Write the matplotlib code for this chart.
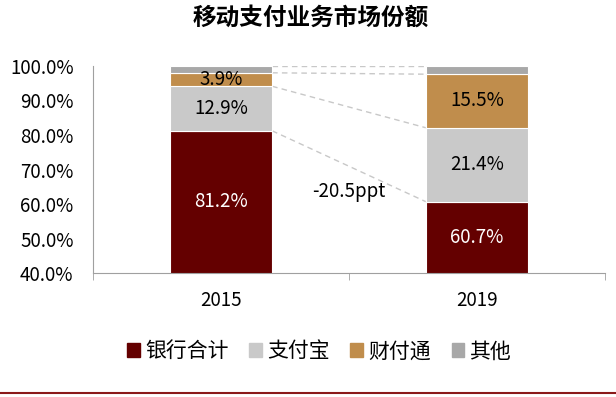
import matplotlib
matplotlib.use("Agg")
import matplotlib.pyplot as plt
from matplotlib.patches import Patch
import numpy as np

plt.rcParams['font.family'] = ['Noto Sans CJK SC', 'DejaVu Sans']

years = ["2015", "2019"]
series = ["银行合计", "支付宝", "财付通", "其他"]
bank = [81.2, 60.7]
alipay = [12.9, 21.4]
tenpay = [3.9, 15.5]
other = [2.0, 2.4]
colors = ["#640000", "#C9C9C9", "#C08D4C", "#A8A8A8"]
change_label = "-20.5ppt"

fig = plt.figure(figsize=(6.16, 3.97), dpi=100)
ax = fig.add_axes([0.151, 0.312, 0.831, 0.522])

x = np.arange(len(years))
w = 0.4
vals = [bank, alipay, tenpay, other]
bottom = np.zeros(len(years))
tops = []
for v, c in zip(vals, colors):
    ax.bar(x, v, w, bottom=bottom, color=c, edgecolor="white", lw=0.8, zorder=2)
    bottom = bottom + np.array(v)
    tops.append(bottom.copy())

# segment labels (centred in the visible part)
for i in range(len(years)):
    lo = 40
    for j, v in enumerate(vals[:3]):
        hi = tops[j][i]
        col = "white" if j == 0 else "black"
        ax.text(x[i], (max(lo, hi - v[i]) + hi) / 2, f"{v[i]:.1f}%",
                ha="center", va="center", fontsize=13.5, color=col, zorder=3)
        lo = hi

# dashed connectors between bars
for t in tops:
    ax.plot([x[0] + w / 2, x[1] - w / 2], [t[0], t[1]], ls=(0, (4, 3)),
            color="#C8C8C8", lw=1, zorder=1)

ax.text(0.5, 63.5, change_label, ha="center", va="center", fontsize=13.5)

ax.set_ylim(40, 100)
ax.set_xlim(-0.5, 1.5)
ax.set_yticks(range(40, 101, 10))
ax.set_yticklabels([f"{t:.1f}%" for t in range(40, 101, 10)], fontsize=13.5)
ax.set_xticks(x)
ax.set_xticklabels(years, fontsize=13.5)
ax.set_xticks([-0.5, 0.5, 1.5], minor=True)
ax.tick_params(axis="x", which="major", length=0, pad=12)
ax.tick_params(axis="x", which="minor", length=5, color="#A0A0A0")
ax.tick_params(axis="y", length=0, pad=14)
for s in ["top", "right"]:
    ax.spines[s].set_visible(False)
for s in ["left", "bottom"]:
    ax.spines[s].set_color("#A0A0A0")

fig.text(0.505, 0.955, "移动支付业务市场份额", ha="center", va="center",
         fontsize=17, fontweight="bold")

handles = [Patch(color=c) for c in colors]
fig.legend(handles, series, loc="center", bbox_to_anchor=(0.518, 0.115), ncol=4,
           frameon=False, fontsize=15, handlelength=0.6, handleheight=0.6,
           handletextpad=0.25, columnspacing=1.0)

fig.add_artist(plt.Line2D([0, 1], [0.01, 0.01], color="#8B1A1A", lw=1.5))

fig.savefig("out.png", dpi=100)
